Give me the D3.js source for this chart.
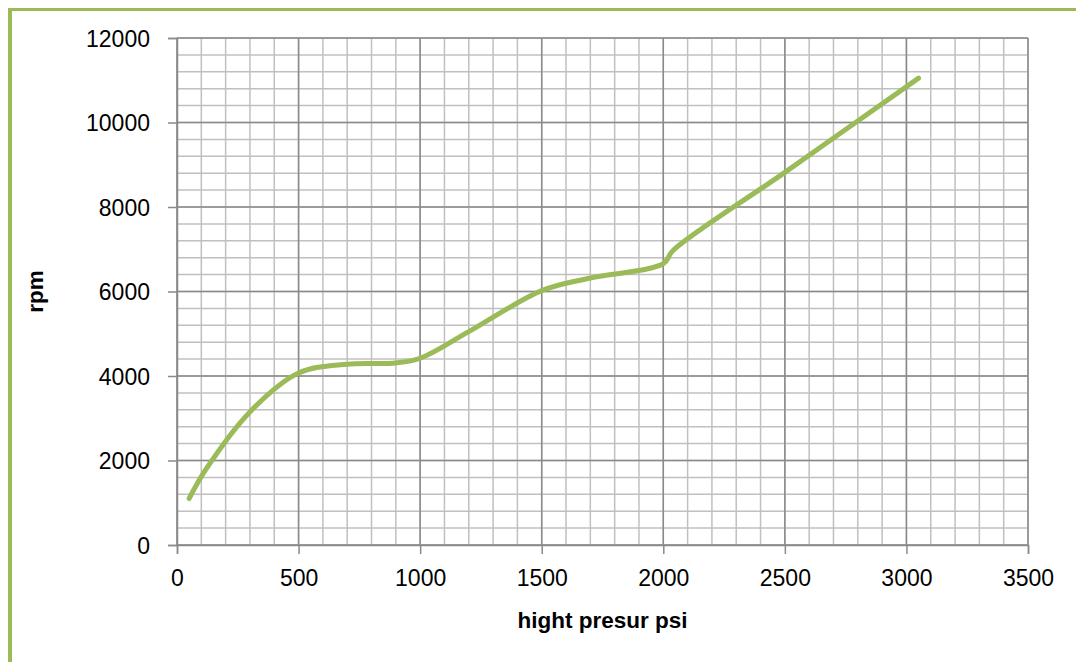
<!DOCTYPE html>
<html>
<head>
<meta charset="utf-8">
<script src="https://cdn.jsdelivr.net/npm/d3@7"></script>
<style>
  body { margin: 0; background: #fff; }
  text { font-family: "Liberation Sans", Arial, sans-serif; fill: #000; }
  .axis-title { font-size: 22.5px; font-weight: bold; }
</style>
</head>
<body>
<div id="chart"></div>
<script>
const svgWidth = 1076;
const svgHeight = 662;

// plot area in pixels
const margin = { top: 38, right: 48, bottom: 117, left: 177 };
const width = svgWidth - margin.left - margin.right;
const height = svgHeight - margin.top - margin.bottom;

// data
const pressure = [50, 120, 300, 500, 700, 900, 1000, 1200, 1500, 1700, 2000, 2040, 2500, 3050];
const rpm = [1100, 1800, 3150, 4070, 4280, 4310, 4420, 5050, 6020, 6320, 6660, 6970, 8820, 11050];

const xTicks = [0, 500, 1000, 1500, 2000, 2500, 3000, 3500];
const yTicks = [0, 2000, 4000, 6000, 8000, 10000, 12000];

const xLabel = "hight presur psi";
const yLabel = "rpm";

const data = pressure.map((p, i) => ({ x: p, y: rpm[i] }));

const svg = d3.select("#chart")
  .append("svg")
  .attr("width", svgWidth)
  .attr("height", svgHeight);

// green frame on the left and top
svg.append("line")
  .attr("x1", 10).attr("y1", 8).attr("x2", 10).attr("y2", svgHeight)
  .attr("stroke", "#9bbb59").attr("stroke-width", 4);
svg.append("line")
  .attr("x1", 8).attr("y1", 9.5).attr("x2", svgWidth).attr("y2", 9.5)
  .attr("stroke", "#9bbb59").attr("stroke-width", 3);

const x = d3.scaleLinear().domain([0, 3500]).range([0, width]);
const y = d3.scaleLinear().domain([0, 12000]).range([height, 0]);

const chartGroup = svg.append("g")
  .attr("transform", `translate(${margin.left}, ${margin.top})`);

// minor grid
chartGroup.append("g")
  .selectAll("line")
  .data(d3.range(0, 3501, 100))
  .join("line")
  .attr("x1", d => x(d)).attr("x2", d => x(d))
  .attr("y1", 0).attr("y2", height)
  .attr("stroke", "#c0c0c0").attr("stroke-width", 1.5);

chartGroup.append("g")
  .selectAll("line")
  .data(d3.range(0, 12001, 400))
  .join("line")
  .attr("y1", d => y(d)).attr("y2", d => y(d))
  .attr("x1", 0).attr("x2", width)
  .attr("stroke", "#c0c0c0").attr("stroke-width", 1.5);

// major grid
chartGroup.append("g")
  .selectAll("line")
  .data(xTicks)
  .join("line")
  .attr("x1", d => x(d)).attr("x2", d => x(d))
  .attr("y1", 0).attr("y2", height)
  .attr("stroke", "#8a8a8a").attr("stroke-width", 1.5);

chartGroup.append("g")
  .selectAll("line")
  .data(yTicks)
  .join("line")
  .attr("y1", d => y(d)).attr("y2", d => y(d))
  .attr("x1", 0).attr("x2", width)
  .attr("stroke", "#8a8a8a").attr("stroke-width", 1.5);

// axes
const bottomAxis = d3.axisBottom(x).tickValues(xTicks).tickSize(9).tickPadding(16).tickFormat(d3.format("d"));
const leftAxis = d3.axisLeft(y).tickValues(yTicks).tickSize(9).tickPadding(18).tickFormat(d3.format("d"));

const xg = chartGroup.append("g")
  .attr("transform", `translate(0, ${height})`)
  .call(bottomAxis);
const yg = chartGroup.append("g").call(leftAxis);

[xg, yg].forEach(g => {
  g.select(".domain").attr("stroke", "#8a8a8a").attr("stroke-width", 1.5);
  g.selectAll(".tick line").attr("stroke", "#8a8a8a").attr("stroke-width", 1.5);
  g.selectAll(".tick text")
    .attr("fill", "#000")
    .style("font-size", "23px")
    .style("font-family", "'Liberation Sans', Arial, sans-serif");
});
yg.selectAll(".tick text").attr("dy", "0.35em");

// the series
const line = d3.line()
  .x(d => x(d.x))
  .y(d => y(d.y))
  .curve(d3.curveCatmullRom.alpha(0.5));

chartGroup.append("path")
  .datum(data)
  .attr("d", line)
  .attr("fill", "none")
  .attr("stroke", "#9bbb59")
  .attr("stroke-width", 5)
  .attr("stroke-linecap", "round")
  .attr("stroke-linejoin", "round");

// axis titles
svg.append("text")
  .attr("class", "axis-title")
  .attr("x", margin.left + x(1750))
  .attr("y", 628)
  .attr("text-anchor", "middle")
  .text(xLabel);

svg.append("text")
  .attr("class", "axis-title")
  .attr("transform", `translate(43, ${margin.top + y(6000)}) rotate(-90)`)
  .attr("text-anchor", "middle")
  .text(yLabel);
</script>
</body>
</html>
